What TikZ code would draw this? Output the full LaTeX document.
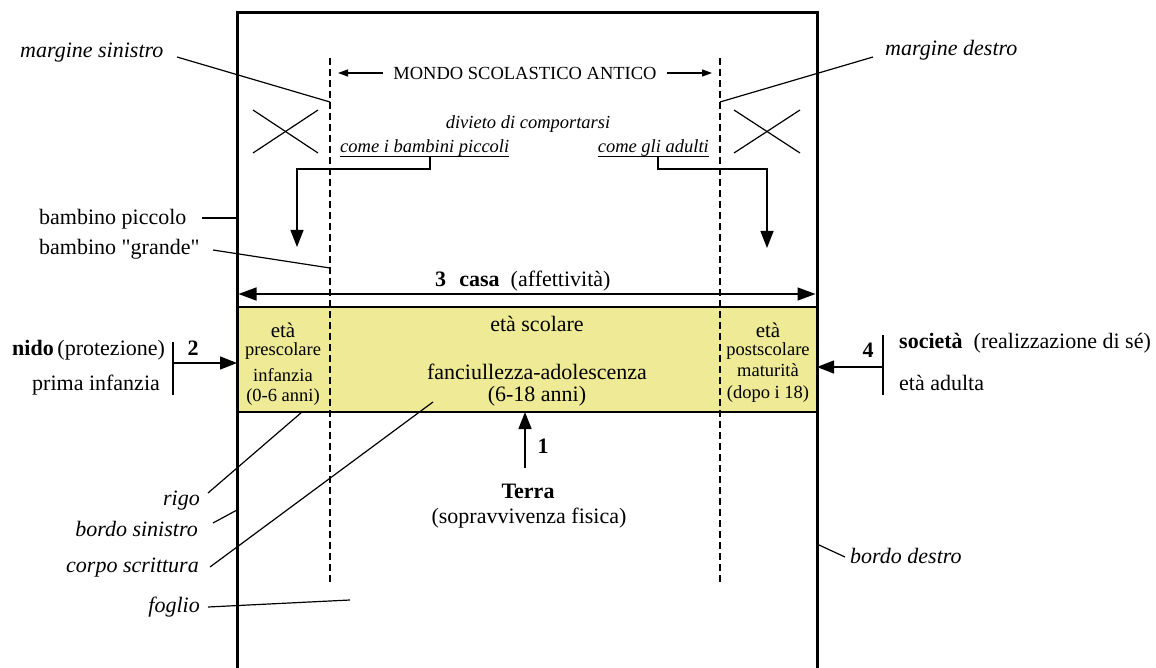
\documentclass[tikz,border=0pt]{standalone}
\usepackage{fontspec}
\setmainfont{Liberation Serif}
\usetikzlibrary{arrows.meta}
\definecolor{bandyellow}{RGB}{238,234,150}
\newcommand\szA{\fontsize{22}{26}\selectfont}
\newcommand\szB{\fontsize{18.5}{22}\selectfont}
\newcommand\szC{\fontsize{21}{24}\selectfont}
\begin{document}
\begin{tikzpicture}[x=1pt,y=-1pt,
  txt/.style={inner sep=0pt, font=\szA},
  itxt/.style={inner sep=0pt, font=\szA\itshape},
  small/.style={inner sep=0pt, font=\szB},
  ismall/.style={inner sep=0pt, font=\szB\itshape},
  cellhead/.style={inner sep=0pt, font=\szC},
  lead/.style={line width=1.2pt},
  pageborder/.style={line width=3pt, line join=miter},
  dashline/.style={line width=1.2pt, dash pattern=on 7pt off 4pt},
  bigarr/.style={line width=1.4pt, -{Triangle[length=17pt,width=13pt]}},
  smallarr/.style={line width=1.2pt, -{Triangle[length=10pt,width=7pt]}},
]
\useasboundingbox (0,0) rectangle (1156,668);

% ---- band
\fill[bandyellow] (237,307) rectangle (817,412);
\draw[line width=2pt] (237,307) -- (817,307);
\draw[line width=2pt] (237,412) -- (817,412);

% ---- margins (dashed)
\coordinate (mlTop) at (330,58); \coordinate (mlBot) at (330,583);
\coordinate (mrTop) at (720,58); \coordinate (mrBot) at (720,583);
\draw[dashline] (mlTop) -- (mlBot);
\draw[dashline] (mrTop) -- (mrBot);

% ---- page
\coordinate (pBL) at (237,672); \coordinate (pTL) at (237,13);
\coordinate (pTR) at (817,13); \coordinate (pBR) at (817,672);
\draw[pageborder] (pBL) -- (pTL) -- (pTR) -- (pBR);

% ---- top title
\node[small, anchor=base] (mondo) at (525,80) {MONDO SCOLASTICO ANTICO};
\coordinate (mondoLs) at (383,73); \coordinate (mondoL) at (338,73);
\coordinate (mondoRs) at (667,73); \coordinate (mondoR) at (712,73);
\draw[smallarr] (mondoLs) -- (mondoL);
\draw[smallarr] (mondoRs) -- (mondoR);

\node[ismall, anchor=base] (divieto) at (528,129) {divieto di comportarsi};
\node[ismall, anchor=base west] (cbp) at (340,153) {come i bambini piccoli};
\node[ismall, anchor=base east] (cga) at (709,153) {come gli adulti};
\draw[line width=1pt] ([yshift=-4pt]cbp.base west) -- ([yshift=-4pt]cbp.base east);
\draw[line width=1pt] ([yshift=-4pt]cga.base west) -- ([yshift=-4pt]cga.base east);

% ---- down arrows
\coordinate (ulA) at (430,157); \coordinate (tipA) at (297,247);
\coordinate (ulB) at (658,157); \coordinate (tipB) at (767,248);
\draw[bigarr] (ulA) -- (430,169) -| (tipA);
\draw[bigarr] (ulB) -- (658,169) -| (tipB);

% ---- crosses
\coordinate (xa1) at (253,110); \coordinate (xa2) at (318,153);
\coordinate (xa3) at (253,153); \coordinate (xa4) at (318,110);
\draw[lead] (xa1) -- (xa2); \draw[lead] (xa3) -- (xa4);
\coordinate (xb1) at (734,110); \coordinate (xb2) at (800,153);
\coordinate (xb3) at (734,153); \coordinate (xb4) at (800,110);
\draw[lead] (xb1) -- (xb2); \draw[lead] (xb3) -- (xb4);

% ---- casa
\node[txt, anchor=base west] (casa) at (435,287) {\textbf{3}\hspace{0.6em}\textbf{casa}\hspace{0.5em}(affettività)};
\coordinate (casaL) at (238.5,294); \coordinate (casaR) at (815.5,294);
\draw[line width=1.4pt, {Triangle[length=18pt,width=13pt]}-{Triangle[length=18pt,width=13pt]}] (casaL) -- (casaR);

% ---- band texts
\node[cellhead, anchor=base] (etaL) at (283,337) {età};
\node[small, anchor=base] (presc) at (283,355) {prescolare};
\node[small, anchor=base] (infz) at (283,381) {infanzia};
\node[small, anchor=base] (anniL) at (283,401) {(0-6 anni)};

\node[txt, anchor=base] (etaS) at (537,331) {età scolare};
\node[txt, anchor=base] (fanc) at (537,379) {fanciullezza-adolescenza};
\node[txt, anchor=base] (anniM) at (537,401) {(6-18 anni)};

\node[cellhead, anchor=base] (etaR) at (768,337) {età};
\node[small, anchor=base] (postsc) at (768,355) {postscolare};
\node[small, anchor=base] (matur) at (768,376) {maturità};
\node[small, anchor=base] (dopo) at (768,398) {(dopo i 18)};

% ---- left: nido
\node[txt, anchor=base west] (nido) at (12,355) {\textbf{nido}\,(protezione)};
\node[txt, anchor=base west] (prima) at (32,390) {prima infanzia};
\node[txt, anchor=base, font=\szA\bfseries] (two) at (193,355) {2};
\coordinate (barLtop) at (173,342); \coordinate (barLbot) at (173,395);
\draw[lead] (barLtop) -- (barLbot);
\coordinate (twoS) at (173,363); \coordinate (twoT) at (237,363);
\draw[bigarr] (twoS) -- (twoT);

% ---- right: società
\node[txt, anchor=base west] (soc) at (899,348) {\textbf{società}\hspace{0.5em}(realizzazione di sé)};
\node[txt, anchor=base west] (adult) at (899,390) {età adulta};
\node[txt, anchor=base, font=\szA\bfseries] (four) at (868,357) {4};
\coordinate (barRtop) at (883,335); \coordinate (barRbot) at (883,395);
\draw[lead] (barRtop) -- (barRbot);
\coordinate (fourS) at (883,367); \coordinate (fourT) at (817,367);
\draw[bigarr] (fourS) -- (fourT);

% ---- bottom: terra
\coordinate (oneS) at (525,468); \coordinate (oneT) at (525,412);
\draw[bigarr] (oneS) -- (oneT);
\node[txt, anchor=base, font=\szA\bfseries] (one) at (543,453) {1};
\node[txt, anchor=base, font=\szA\bfseries] (terra) at (528,498) {Terra};
\node[txt, anchor=base] (sopr) at (529,523) {(sopravvivenza fisica)};

% ---- labels
\node[itxt, anchor=base west] (msin) at (20,58) {margine sinistro};
\coordinate (msinS) at (177,57); \coordinate (msinT) at (330,102);
\draw[lead] (msinS) -- (msinT);

\node[itxt, anchor=base west] (mdes) at (885,56) {margine destro};
\coordinate (mdesS) at (873,57); \coordinate (mdesT) at (720,102);
\draw[lead] (mdesS) -- (mdesT);

\node[txt, anchor=base west] (bpic) at (39,225) {bambino piccolo};
\coordinate (bpicS) at (202,218); \coordinate (bpicT) at (237,218);
\draw[lead] (bpicS) -- (bpicT);

\node[txt, anchor=base west] (bgra) at (39,255) {bambino \textquotedbl grande\textquotedbl};
\coordinate (bgraS) at (213,250); \coordinate (bgraT) at (330,268);
\draw[lead] (bgraS) -- (bgraT);

\node[itxt, anchor=base east] (rigo) at (200,505) {rigo};
\coordinate (rigoS) at (208,493); \coordinate (rigoT) at (302,412);
\draw[lead] (rigoS) -- (rigoT);

\node[itxt, anchor=base east] (bsin) at (198,536) {bordo sinistro};
\coordinate (bsinS) at (213,523); \coordinate (bsinT) at (237,510);
\draw[lead] (bsinS) -- (bsinT);

\node[itxt, anchor=base east] (corpo) at (199,572) {corpo scrittura};
\coordinate (corpoS) at (210,567); \coordinate (corpoT) at (433,402);
\draw[lead] (corpoS) -- (corpoT);

\node[itxt, anchor=base east] (foglio) at (200,612) {foglio};
\coordinate (foglioS) at (208,607); \coordinate (foglioT) at (350,600);
\draw[lead] (foglioS) -- (foglioT);

\node[itxt, anchor=base west] (bdes) at (850,563) {bordo destro};
\coordinate (bdesS) at (845,557); \coordinate (bdesT) at (819,545);
\draw[lead] (bdesS) -- (bdesT);
\end{tikzpicture}
\end{document}
